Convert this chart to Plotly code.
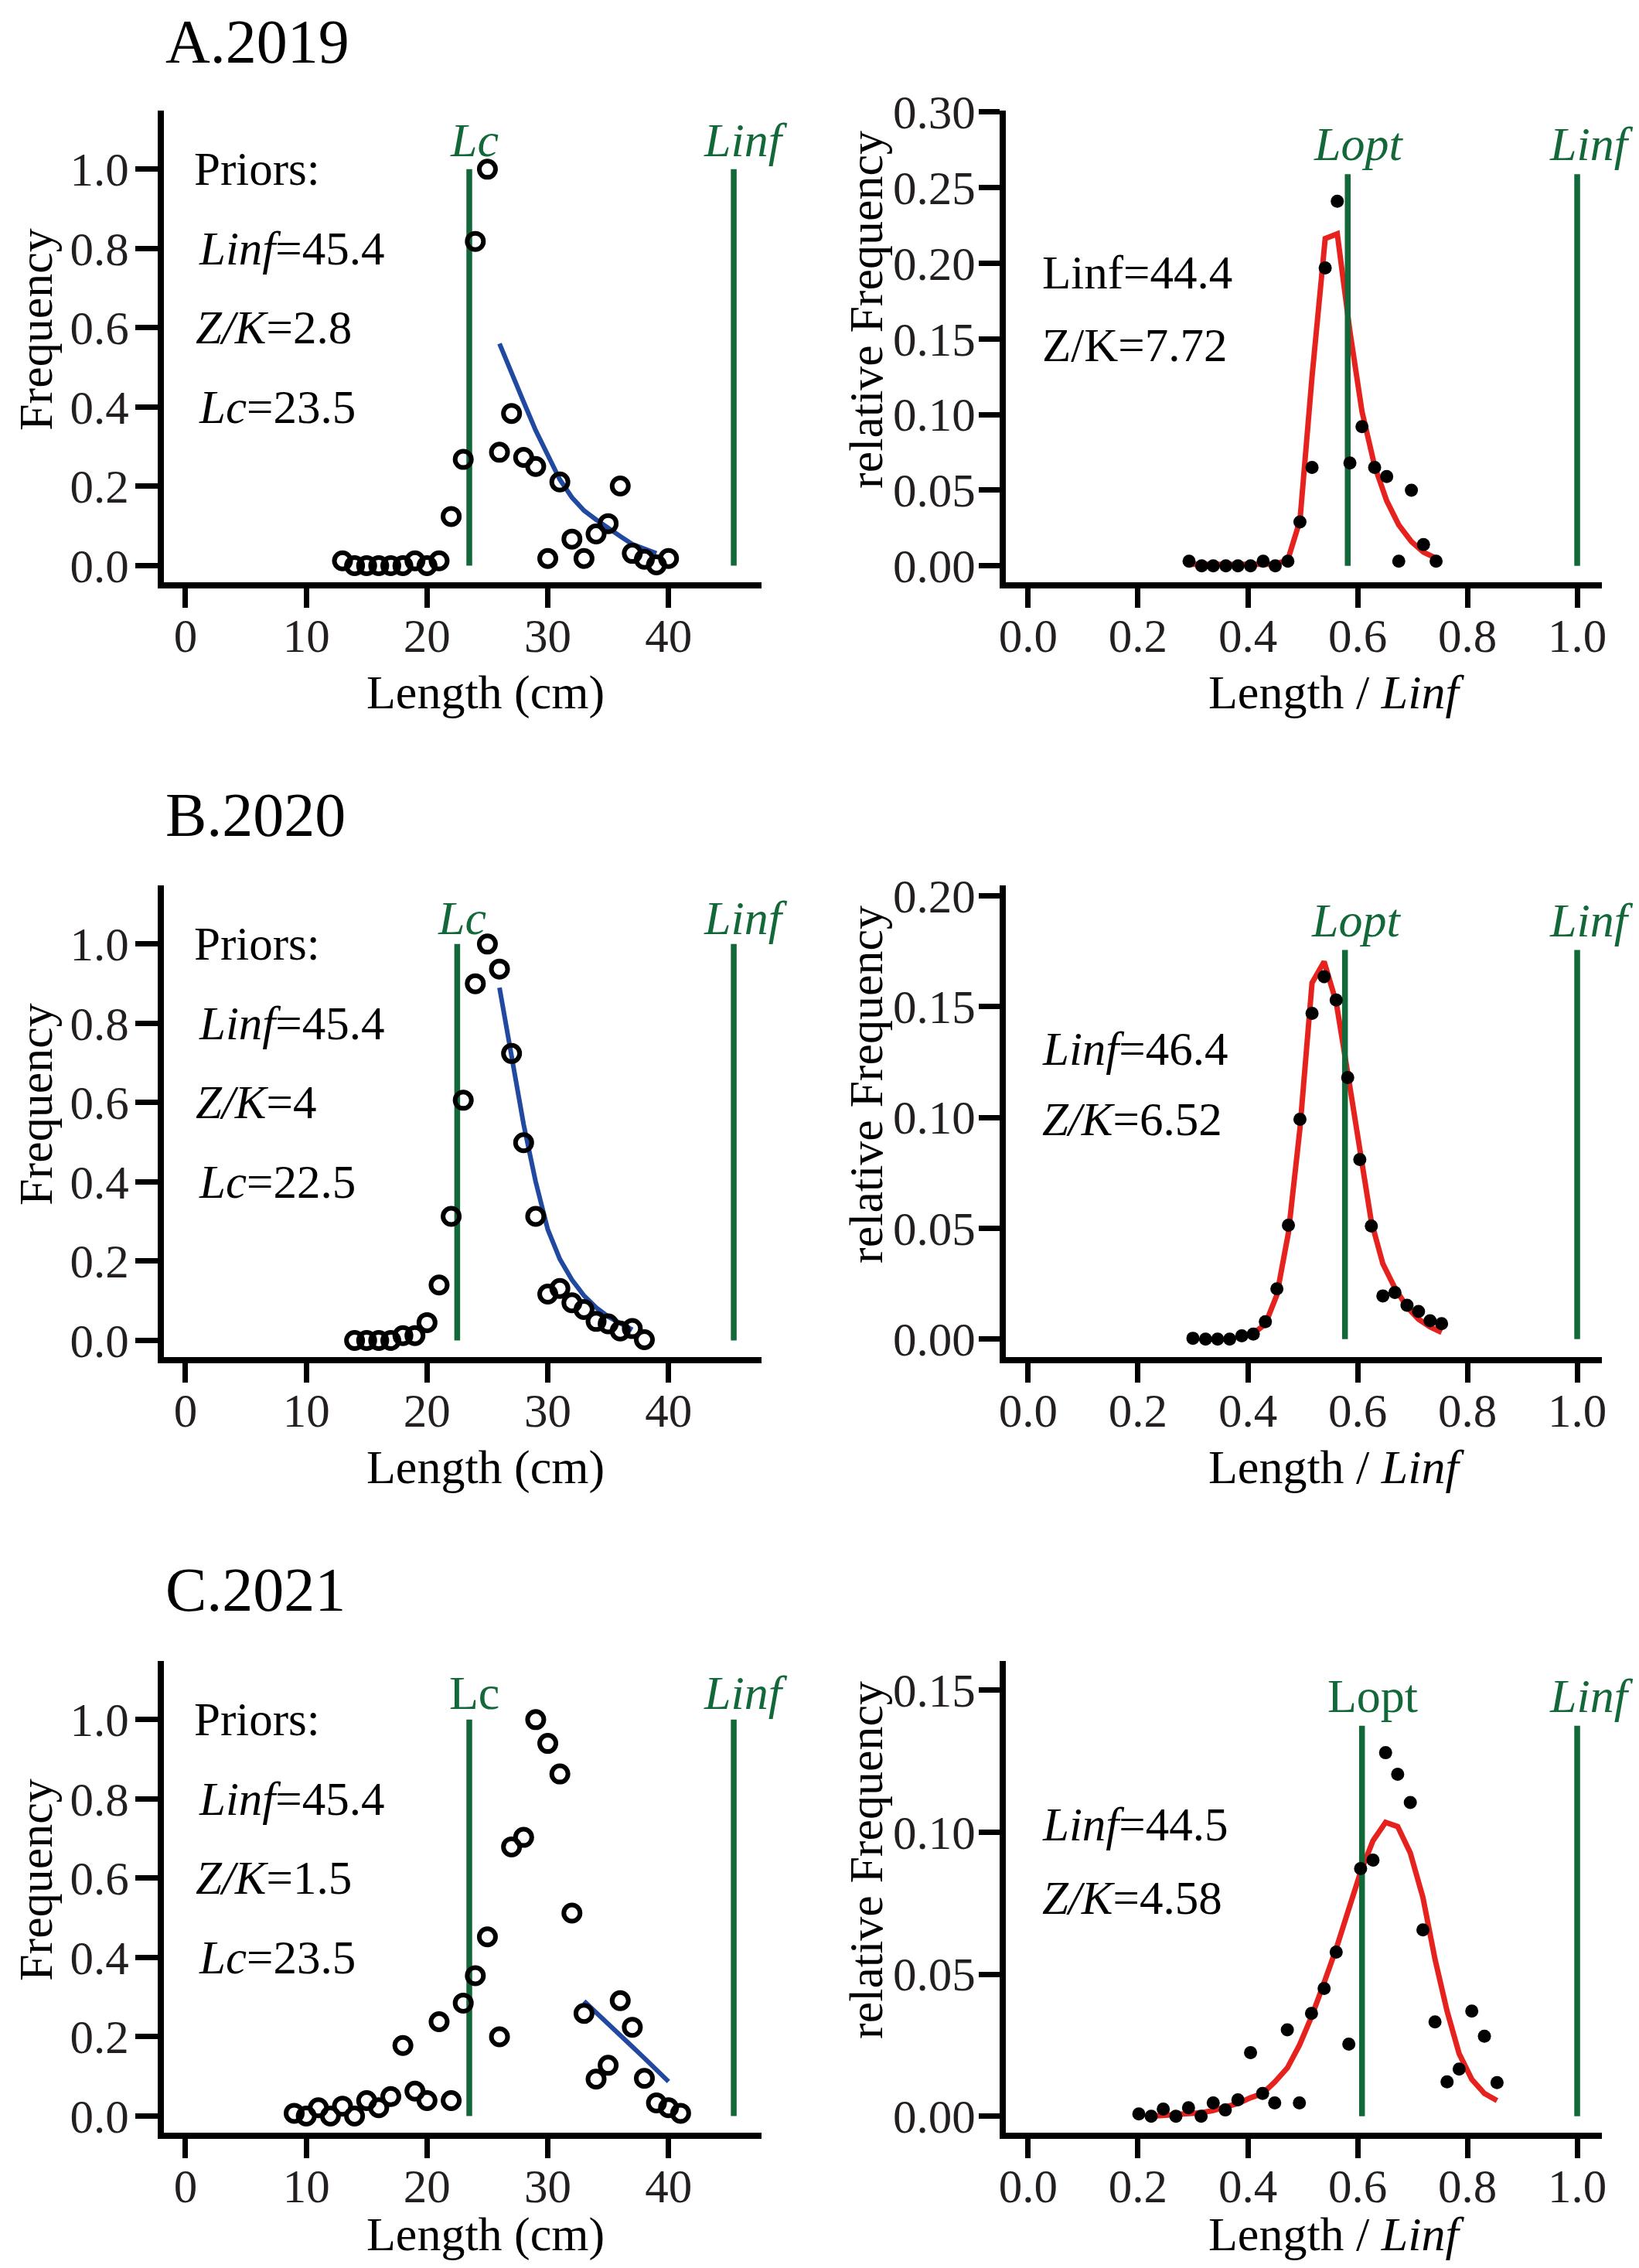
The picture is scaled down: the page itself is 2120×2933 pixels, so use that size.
import plotly.graph_objects as go

# ---- data ----
# 2019
a_len = [13, 14, 15, 16, 17, 18, 19, 20, 21, 22, 23, 24, 25, 26, 27, 28, 29, 30, 31, 32, 33, 34, 35, 36, 37, 38, 39, 40]
a_freq = [0.012, 0, 0, 0, 0, 0, 0.012, 0, 0.012, 0.124, 0.268, 0.818, 1.0, 0.286, 0.384, 0.273, 0.25, 0.018,
          0.211, 0.067, 0.018, 0.08, 0.106, 0.201, 0.031, 0.016, 0.002, 0.018]
a_fit_len = [26, 27, 28, 29, 30, 31, 32, 33, 34, 35, 36, 37, 38, 39]
a_fit = [0.56, 0.49, 0.413, 0.341, 0.276, 0.217, 0.172, 0.139, 0.116, 0.094, 0.074, 0.054, 0.041, 0.031]
a_rel_x = [0.293, 0.316, 0.337, 0.36, 0.382, 0.405, 0.428, 0.45, 0.473, 0.495, 0.517, 0.541, 0.563, 0.586,
           0.608, 0.631, 0.653, 0.675, 0.698, 0.72, 0.743]
a_rel_y = [0.003, 0, 0, 0, 0, 0, 0.003, 0, 0.003, 0.029, 0.065, 0.197, 0.241, 0.068, 0.092, 0.065, 0.059,
           0.003, 0.05, 0.014, 0.003]
a_rel_fit = [0.001, 0.001, 0.001, 0.001, 0.001, 0.001, 0.001, 0.001, 0.004, 0.03, 0.125, 0.2164, 0.2195,
             0.155, 0.102, 0.066, 0.043, 0.027, 0.016, 0.009, 0.005]

# 2020
b_len = [14, 15, 16, 17, 18, 19, 20, 21, 22, 23, 24, 25, 26, 27, 28, 29, 30, 31, 32, 33, 34, 35, 36, 37, 38]
b_freq = [0, 0, 0, 0, 0.012, 0.012, 0.045, 0.14, 0.313, 0.606, 0.9, 1.0, 0.937, 0.724, 0.499, 0.313, 0.117,
          0.131, 0.095, 0.078, 0.048, 0.042, 0.024, 0.03, 0.002]
b_fit_len = [26, 27, 28, 29, 30, 31, 32, 33, 34, 35, 36, 37]
b_fit = [0.89, 0.72, 0.545, 0.4, 0.28, 0.205, 0.153, 0.113, 0.083, 0.06, 0.042, 0.027]
b_rel_x = [0.3, 0.323, 0.345, 0.367, 0.389, 0.41, 0.432, 0.453, 0.474, 0.495, 0.517, 0.539, 0.561, 0.582,
           0.604, 0.625, 0.646, 0.668, 0.69, 0.711, 0.732, 0.753]
b_rel_y = [0.0004, 0, 0, 0, 0.0015, 0.0023, 0.0079, 0.0227, 0.0514, 0.0992, 0.147, 0.1635, 0.153, 0.118,
           0.081, 0.051, 0.0195, 0.021, 0.0153, 0.0125, 0.0083, 0.007]
b_rel_fit_x = [0.41, 0.432, 0.453, 0.474, 0.495, 0.517, 0.539, 0.561, 0.582, 0.604, 0.625, 0.646, 0.668,
               0.69, 0.711, 0.732, 0.753]
b_rel_fit = [0.0025, 0.0068, 0.02, 0.048, 0.095, 0.1607, 0.1703, 0.152, 0.12, 0.086, 0.053, 0.034, 0.023,
             0.0145, 0.009, 0.0055, 0.003]

# 2021
c_len = [9, 10, 11, 12, 13, 14, 15, 16, 17, 18, 19, 20, 21, 22, 23, 24, 25, 26, 27, 28, 29, 30, 31, 32, 33,
         34, 35, 36, 37, 38, 39, 40, 41]
c_freq = [0.007, 0, 0.021, 0, 0.025, 0, 0.039, 0.021, 0.049, 0.178, 0.063, 0.039, 0.238, 0.039, 0.285, 0.354,
          0.452, 0.2, 0.679, 0.703, 1.0, 0.94, 0.863, 0.512, 0.259, 0.093, 0.128, 0.291, 0.224, 0.095, 0.033,
          0.021, 0.007]
c_fit_len = [33, 34, 35, 36, 37, 38, 39, 40]
c_fit = [0.29, 0.262, 0.232, 0.205, 0.175, 0.146, 0.116, 0.087]
c_rel_x = [0.2015, 0.224, 0.246, 0.269, 0.292, 0.315, 0.337, 0.359, 0.382, 0.405, 0.427, 0.449, 0.472, 0.494,
           0.516, 0.539, 0.561, 0.584, 0.6055, 0.628, 0.651, 0.673, 0.696, 0.719, 0.741, 0.763, 0.785, 0.808,
           0.831, 0.854]
c_rel_y = [0.0008, 0, 0.0025, 0, 0.003, 0, 0.0047, 0.0022, 0.0058, 0.0224, 0.008, 0.0047, 0.0304, 0.0047,
           0.0362, 0.045, 0.0578, 0.0254, 0.0872, 0.0902, 0.128, 0.1204, 0.1105, 0.0656, 0.0332, 0.0121,
           0.0166, 0.037, 0.0282, 0.0118]
c_rel_fit_x = c_rel_x[1:]
c_rel_fit = [0.0, 0.0002, 0.0005, 0.0008, 0.0012, 0.002, 0.003, 0.0045, 0.0065, 0.008, 0.012, 0.017, 0.025,
             0.035, 0.047, 0.059, 0.073, 0.086, 0.097, 0.1035, 0.102, 0.0927, 0.077, 0.0553, 0.037, 0.022,
             0.013, 0.008, 0.0055]

titles = ["A.2019", "B.2020", "C.2021"]
prior_linf = 45.4
prior_zk = ["2.8", "4", "1.5"]
prior_lc = [23.5, 22.5, 23.5]
est_linf = ["44.4", "46.4", "44.5"]
est_zk = ["7.72", "6.52", "4.58"]
lopt = [0.582, 0.577, 0.608]
lopt_top = [0.259, 0.1756, 0.1375]
rel_ymax = [0.30, 0.20, 0.15]
rel_ytop = [0.301, 0.2047, 0.1603]
rel_ybot = [-0.0109, -0.0081, -0.0058]

left_x = [a_len, b_len, c_len]
left_y = [a_freq, b_freq, c_freq]
left_fx = [a_fit_len, b_fit_len, c_fit_len]
left_fy = [a_fit, b_fit, c_fit]
right_x = [a_rel_x, b_rel_x, c_rel_x]
right_y = [a_rel_y, b_rel_y, c_rel_y]
right_fx = [a_rel_x, b_rel_fit_x, c_rel_fit_x]
right_fy = [a_rel_fit, b_rel_fit, c_rel_fit]

# ---- styling ----
FONT = "Times New Roman, Liberation Serif, serif"
GREEN = "#13683a"
BLUE = "#2149a0"
RED = "#e5221e"
# the page body adds an 8px margin, so the figure is a bit smaller than the window
OFF = 8
W, H = 2120 - 2 * OFF, 2933 - 2 * OFF
row_top = [143, 1145, 2148]      # page pixel top of each row's axes
row_h = 610
title_y = [54, 1054, 2056]


def fx(p):
    return (p - OFF) / W


def fy(p):
    return 1 - (p - OFF) / H


def paper_text(txt, x, y, size, angle=0):
    return dict(text=txt, x=fx(x), y=fy(y), xref="paper", yref="paper", xanchor="center",
                yanchor="middle", textangle=angle, showarrow=False,
                font=dict(family=FONT, size=size, color="black"))


fig = go.Figure()
annotations = []
layout = {}

for r in range(3):
    li, ri = 2 * r + 1, 2 * r + 2
    lx, ly = ("x%d" % li, "y%d" % li)
    rx, ry = ("x%d" % ri, "y%d" % ri)
    ydom = [fy(row_top[r] + row_h), fy(row_top[r])]

    # left panel: frequency
    fig.add_trace(go.Scatter(x=left_fx[r], y=left_fy[r], mode="lines",
                             line=dict(color=BLUE, width=6), xaxis=lx, yaxis=ly))
    for v in [prior_lc[r], prior_linf]:
        fig.add_trace(go.Scatter(x=[v, v], y=[0, 1.0], mode="lines",
                                 line=dict(color=GREEN, width=7.5), xaxis=lx, yaxis=ly))
    fig.add_trace(go.Scatter(x=left_x[r], y=left_y[r], mode="markers",
                             marker=dict(symbol="circle-open", size=21, color="black",
                                         line=dict(width=6, color="black")),
                             xaxis=lx, yaxis=ly))

    # right panel: relative frequency
    fig.add_trace(go.Scatter(x=right_fx[r], y=right_fy[r], mode="lines",
                             line=dict(color=RED, width=7), xaxis=rx, yaxis=ry))
    for v in [lopt[r], 1.0]:
        fig.add_trace(go.Scatter(x=[v, v], y=[0, lopt_top[r]], mode="lines",
                                 line=dict(color=GREEN, width=7.5), xaxis=rx, yaxis=ry))
    fig.add_trace(go.Scatter(x=right_x[r], y=right_y[r], mode="markers",
                             marker=dict(size=17, color="black"), xaxis=rx, yaxis=ry))

    common = dict(showline=True, linewidth=8, linecolor="black", ticks="outside",
                  tickwidth=7, tickcolor="black", showgrid=False, zeroline=False,
                  tickfont=dict(family=FONT, size=61, color="#231f20"))
    suf = "" if li == 1 else str(li)
    layout["xaxis" + suf] = dict(common, domain=[fx(212), fx(985)], range=[-1.79, 47.7],
                                 tickvals=[0, 10, 20, 30, 40], ticklen=25, anchor=ly,
                                 ticklabelstandoff=-16)
    layout["yaxis" + suf] = dict(common, domain=ydom, range=[-0.042, 1.148],
                                 tickvals=[0, 0.2, 0.4, 0.6, 0.8, 1.0], tickformat=".1f",
                                 ticklen=29, anchor=lx, ticklabelstandoff=-4)
    step = 0.05
    n = int(round(rel_ymax[r] / step))
    layout["xaxis%d" % ri] = dict(common, domain=[fx(1301), fx(2072)], range=[-0.0408, 1.045],
                                  tickvals=[0, 0.2, 0.4, 0.6, 0.8, 1.0], tickformat=".1f",
                                  ticklen=25, anchor=ry, ticklabelstandoff=-16)
    layout["yaxis%d" % ri] = dict(common, domain=ydom, range=[rel_ybot[r], rel_ytop[r]],
                                  tickvals=[round(i * step, 2) for i in range(n + 1)],
                                  tickformat=".2f", ticklen=27, anchor=rx, ticklabelstandoff=-8)

    # panel title
    annotations.append(dict(text=titles[r], x=fx(212), y=fy(title_y[r]), xref="paper", yref="paper",
                            xanchor="left", yanchor="middle", showarrow=False,
                            font=dict(family=FONT, size=80, color="black")))
    # axis titles
    xt_y = min(row_top[r] + 752, 2889)
    annotations.append(paper_text("Frequency", 46, row_top[r] + 283, 62, -90))
    annotations.append(paper_text("relative Frequency", 1120, row_top[r] + 258, 62, -90))
    annotations.append(paper_text("Length (cm)", 628, xt_y, 62))
    annotations.append(paper_text("Length / <i>Linf</i>", 1729, xt_y, 62))

    # priors text
    txt_font = dict(family=FONT, size=61, color="black")
    lc_txt = "Lc" if r == 2 else "<i>Lc</i>"
    for txt, yy, xx in [("Priors:", 1.0, 0.6), ("<i>Linf</i>=%s" % prior_linf, 0.8, 0.95),
                        ("<i>Z/K</i>=%s" % prior_zk[r], 0.6, 0.7),
                        ("<i>Lc</i>=%s" % prior_lc[r], 0.4, 0.95)]:
        annotations.append(dict(text=txt, x=xx, y=yy, xref=lx, yref=ly, xanchor="left",
                                yanchor="middle", showarrow=False, font=txt_font))
    # estimates text
    if r == 0:
        est = ["Linf=%s" % est_linf[r], "Z/K=%s" % est_zk[r]]
    else:
        est = ["<i>Linf</i>=%s" % est_linf[r], "<i>Z/K</i>=%s" % est_zk[r]]
    est_y = [[0.194, 0.1457], [0.131, 0.0992], [0.1027, 0.0769]][r]
    for txt, yy in zip(est, est_y):
        annotations.append(dict(text=txt, x=0.022, y=yy, xref=rx, yref=ry, xanchor="left",
                                yanchor="middle", showarrow=False, font=txt_font))

    # green line labels
    gfont = dict(family=FONT, size=62, color=GREEN)
    lab_y = [1.074, 1.066, 1.068][r]
    annotations.append(dict(text=lc_txt, x=prior_lc[r] + 0.4, y=lab_y, xref=lx, yref=ly,
                            xanchor="center", yanchor="middle", showarrow=False, font=gfont))
    annotations.append(dict(text="<i>Linf</i>", x=46.4, y=lab_y, xref=lx, yref=ly,
                            xanchor="center", yanchor="middle", showarrow=False, font=gfont))
    rlab_y = [0.279, 0.189, 0.148][r]
    annotations.append(dict(text="Lopt" if r == 2 else "<i>Lopt</i>", x=lopt[r] + 0.02, y=rlab_y,
                            xref=rx, yref=ry, xanchor="center", yanchor="middle",
                            showarrow=False, font=gfont))
    annotations.append(dict(text="<i>Linf</i>", x=1.026, y=rlab_y, xref=rx, yref=ry,
                            xanchor="center", yanchor="middle", showarrow=False, font=gfont))

fig.update_layout(width=W, height=H, margin=dict(l=0, r=0, t=0, b=0, autoexpand=False),
                  paper_bgcolor="white", plot_bgcolor="white", showlegend=False,
                  annotations=annotations, **layout)

fig.write_html("out.html")
